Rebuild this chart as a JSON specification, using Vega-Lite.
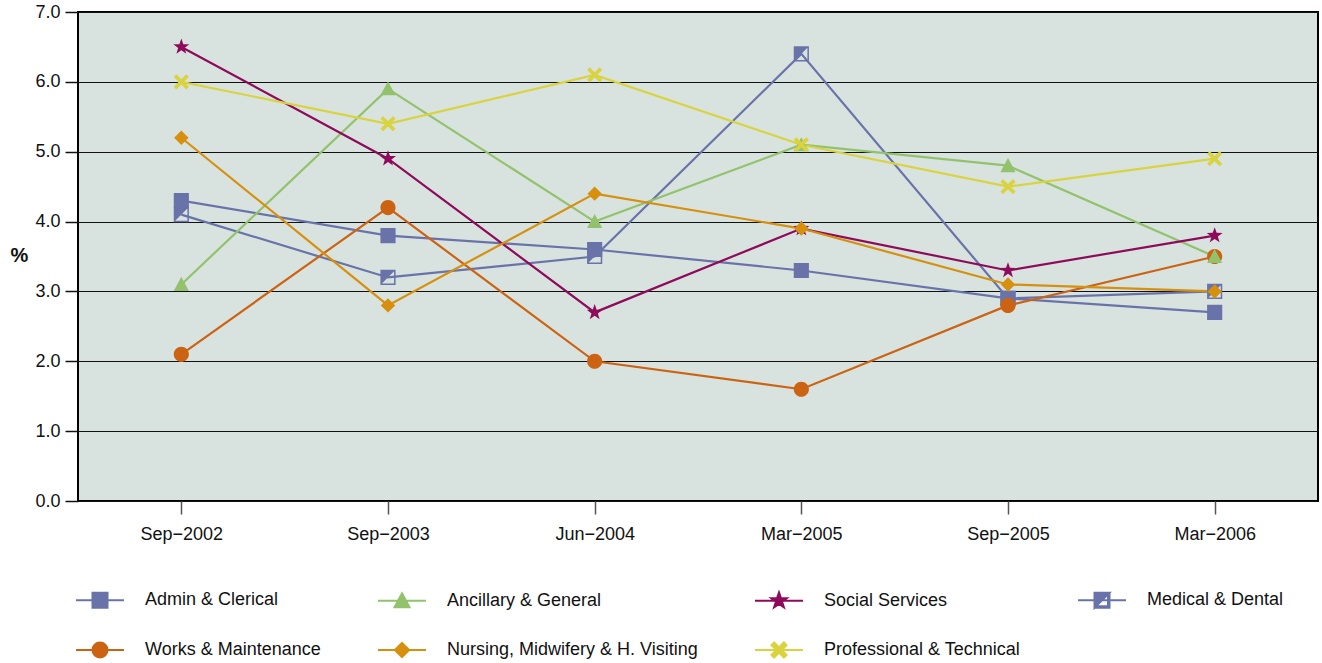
{
  "$schema": "https://vega.github.io/schema/vega-lite/v6.json",
  "width": 1240,
  "height": 489,
  "autosize": {"type": "none"},
  "padding": {"left": 78, "top": 12, "right": 4, "bottom": 162},
  "background": "white",
  "config": {
    "view": {"fill": "#d8e3df", "stroke": "#000000", "strokeWidth": 2},
    "font": "Liberation Sans",
    "axis": {"labelFont": "Liberation Sans", "labelFontSize": 18, "labelColor": "#111111"},
    "legend": {"symbolStrokeWidth": 2, "symbolOpacity": 1}
  },
  "data": {
    "values": [
      {"series": "Admin & Clerical", "period": "Sep−2002", "pct": 4.3},
      {"series": "Admin & Clerical", "period": "Sep−2003", "pct": 3.8},
      {"series": "Admin & Clerical", "period": "Jun−2004", "pct": 3.6},
      {"series": "Admin & Clerical", "period": "Mar−2005", "pct": 3.3},
      {"series": "Admin & Clerical", "period": "Sep−2005", "pct": 2.9},
      {"series": "Admin & Clerical", "period": "Mar−2006", "pct": 2.7},
      {"series": "Medical & Dental", "period": "Sep−2002", "pct": 4.1},
      {"series": "Medical & Dental", "period": "Sep−2003", "pct": 3.2},
      {"series": "Medical & Dental", "period": "Jun−2004", "pct": 3.5},
      {"series": "Medical & Dental", "period": "Mar−2005", "pct": 6.4},
      {"series": "Medical & Dental", "period": "Sep−2005", "pct": 2.9},
      {"series": "Medical & Dental", "period": "Mar−2006", "pct": 3.0},
      {"series": "Works & Maintenance", "period": "Sep−2002", "pct": 2.1},
      {"series": "Works & Maintenance", "period": "Sep−2003", "pct": 4.2},
      {"series": "Works & Maintenance", "period": "Jun−2004", "pct": 2.0},
      {"series": "Works & Maintenance", "period": "Mar−2005", "pct": 1.6},
      {"series": "Works & Maintenance", "period": "Sep−2005", "pct": 2.8},
      {"series": "Works & Maintenance", "period": "Mar−2006", "pct": 3.5},
      {"series": "Ancillary & General", "period": "Sep−2002", "pct": 3.1},
      {"series": "Ancillary & General", "period": "Sep−2003", "pct": 5.9},
      {"series": "Ancillary & General", "period": "Jun−2004", "pct": 4.0},
      {"series": "Ancillary & General", "period": "Mar−2005", "pct": 5.1},
      {"series": "Ancillary & General", "period": "Sep−2005", "pct": 4.8},
      {"series": "Ancillary & General", "period": "Mar−2006", "pct": 3.5},
      {"series": "Social Services", "period": "Sep−2002", "pct": 6.5},
      {"series": "Social Services", "period": "Sep−2003", "pct": 4.9},
      {"series": "Social Services", "period": "Jun−2004", "pct": 2.7},
      {"series": "Social Services", "period": "Mar−2005", "pct": 3.9},
      {"series": "Social Services", "period": "Sep−2005", "pct": 3.3},
      {"series": "Social Services", "period": "Mar−2006", "pct": 3.8},
      {"series": "Nursing, Midwifery & H. Visiting", "period": "Sep−2002", "pct": 5.2},
      {"series": "Nursing, Midwifery & H. Visiting", "period": "Sep−2003", "pct": 2.8},
      {"series": "Nursing, Midwifery & H. Visiting", "period": "Jun−2004", "pct": 4.4},
      {"series": "Nursing, Midwifery & H. Visiting", "period": "Mar−2005", "pct": 3.9},
      {"series": "Nursing, Midwifery & H. Visiting", "period": "Sep−2005", "pct": 3.1},
      {"series": "Nursing, Midwifery & H. Visiting", "period": "Mar−2006", "pct": 3.0},
      {"series": "Professional & Technical", "period": "Sep−2002", "pct": 6.0},
      {"series": "Professional & Technical", "period": "Sep−2003", "pct": 5.4},
      {"series": "Professional & Technical", "period": "Jun−2004", "pct": 6.1},
      {"series": "Professional & Technical", "period": "Mar−2005", "pct": 5.1},
      {"series": "Professional & Technical", "period": "Sep−2005", "pct": 4.5},
      {"series": "Professional & Technical", "period": "Mar−2006", "pct": 4.9}
    ]
  },
  "encoding": {
    "x": {
      "field": "period",
      "type": "ordinal",
      "sort": ["Sep−2002", "Sep−2003", "Jun−2004", "Mar−2005", "Sep−2005", "Mar−2006"],
      "scale": {"type": "point", "padding": 0.5},
      "axis": {"title": null, "labelAngle": 0, "tickSize": 13, "labelPadding": 11, "domain": false, "tickColor": "#555555", "tickWidth": 1.5, "grid": false}
    },
    "y": {
      "field": "pct",
      "type": "quantitative",
      "scale": {"domain": [0, 7], "nice": false},
      "axis": {
        "values": [0, 1, 2, 3, 4, 5, 6, 7],
        "format": ".1f",
        "title": "%",
        "titleAngle": 0,
        "titleFont": "Liberation Sans",
        "titleFontSize": 20,
        "titleFontWeight": "bold",
        "titleColor": "#111111",
        "titleX": -59,
        "titleY": 243,
        "titleAlign": "center",
        "titleBaseline": "middle",
        "grid": true,
        "gridColor": "#111111",
        "gridWidth": 1,
        "gridOpacity": 1,
        "domain": false,
        "tickColor": "#111111",
        "tickWidth": 1.5,
        "tickSize": 13,
        "labelPadding": 5
      }
    }
  },
  "layer": [
    {
      "mark": {"type": "line", "strokeWidth": 2.2},
      "encoding": {
        "stroke": {
          "field": "series",
          "type": "nominal",
          "scale": {
            "domain": ["Admin & Clerical", "Works & Maintenance", "Ancillary & General", "Nursing, Midwifery & H. Visiting", "Social Services", "Professional & Technical", "Medical & Dental"],
            "range": ["#6a73a9", "#cc6312", "#93c26d", "#d6900e", "#8e0b5b", "#d9d33f", "#6a73a9"]
          },
          "legend": {
            "title": null, "orient": "none", "legendX": 13, "legendY": 579, "columns": 4,
            "columnPadding": 53, "rowPadding": 26, "padding": 0,
            "labelFont": "Liberation Sans", "labelFontSize": 18, "labelColor": "#111111",
            "labelOffset": 36, "labelLimit": 400, "symbolSize": 225, "symbolStrokeWidth": 2
          }
        }
      }
    },
    {
      "mark": {"type": "point", "filled": true, "opacity": 1, "size": 230},
      "encoding": {
        "color": {
          "field": "series",
          "type": "nominal",
          "scale": {
            "domain": ["Admin & Clerical", "Works & Maintenance", "Ancillary & General", "Nursing, Midwifery & H. Visiting", "Social Services", "Professional & Technical", "Medical & Dental"],
            "range": ["#6a73a9", "#cc6312", "#93c26d", "#d6900e", "#8e0b5b", "#d9d33f", "#6a73a9"]
          },
          "legend": {
            "title": null, "orient": "none", "legendX": 13, "legendY": 579, "columns": 4,
            "columnPadding": 53, "rowPadding": 26, "padding": 0,
            "labelFont": "Liberation Sans", "labelFontSize": 18, "labelColor": "#111111",
            "labelOffset": 36, "labelLimit": 400, "symbolSize": 225, "symbolStrokeWidth": 2
          }
        },
        "shape": {
          "field": "series",
          "type": "nominal",
          "scale": {
            "domain": ["Admin & Clerical", "Works & Maintenance", "Ancillary & General", "Nursing, Midwifery & H. Visiting", "Social Services", "Professional & Technical", "Medical & Dental"],
            "range": [
              "M-3.2,0H3.2M-1,-1H1V1H-1Z",
              "M-3.2,0H3.2M1,0A1,1,0,1,1,-1,0A1,1,0,1,1,1,0Z",
              "M-3.2,0H3.2M0,-1L1,0.85H-1Z",
              "M-3.2,0H3.2M0,-0.95L0.95,0L0,0.95L-0.95,0Z",
              "M-3.2,0H3.2M0,-1.1L0.26,-0.36L1.05,-0.34L0.42,0.14L0.65,0.89L0,0.44L-0.65,0.89L-0.42,0.14L-1.05,-0.34L-0.26,-0.36Z",
              "M-3.2,0H3.2M-1,-0.65L-0.65,-1L0,-0.35L0.65,-1L1,-0.65L0.35,0L1,0.65L0.65,1L0,0.35L-0.65,1L-1,0.65L-0.35,0Z",
              "M-3.2,0H3.2M-1,-1H1V1H-1Z M-0.8,-0.8V0.8H0.8V-0.8Z M-1,-1H1L-1,1Z"
            ]
          },
          "legend": {
            "title": null, "orient": "none", "legendX": 13, "legendY": 579, "columns": 4,
            "columnPadding": 53, "rowPadding": 26, "padding": 0,
            "labelFont": "Liberation Sans", "labelFontSize": 18, "labelColor": "#111111",
            "labelOffset": 36, "labelLimit": 400, "symbolSize": 225, "symbolStrokeWidth": 2
          }
        }
      }
    }
  ]
}
